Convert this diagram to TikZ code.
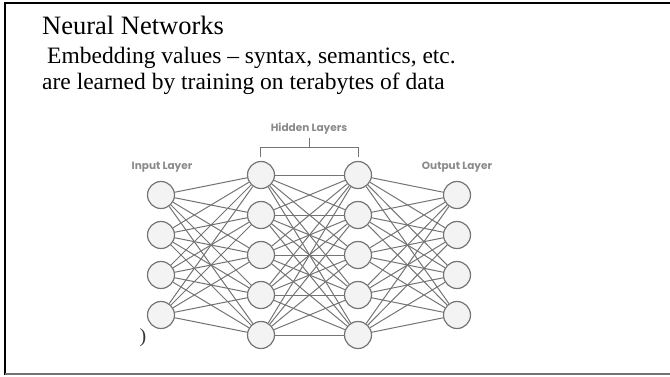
\documentclass[tikz,border=0pt]{standalone}
\usepackage{fontspec}
\setmainfont{Liberation Serif}
\newfontfamily\labelfont{Poppins}
\definecolor{linegray}{HTML}{747474}
\definecolor{nodefill}{HTML}{F3F3F3}
\definecolor{labelgray}{HTML}{8A8A8A}

\begin{document}
\begin{tikzpicture}[x=1pt,y=-1pt,
    neuron/.style={circle, draw=linegray, fill=nodefill, line width=1.2pt,
        minimum size=27pt, inner sep=0pt},
    layerlabel/.style={font=\labelfont\bfseries\fontsize{10.5}{12}\selectfont, text=labelgray},
    link/.style={draw=linegray, line width=1pt}]
\useasboundingbox (0,0) rectangle (670,376);

%% slide frame
\draw[line width=1.8pt] (5,375) -- (5,3) -- (670,3);
\draw[linegray, line width=1.4pt] (5,374) -- (670,374);

%% slide text
\node[anchor=base west, inner sep=0pt, font=\fontsize{26.5}{30}\selectfont] (title) at (42,34) {Neural Networks};
\node[anchor=base west, inner sep=0pt, font=\fontsize{23.5}{27}\selectfont] (lineone) at (47,63) {Embedding values -- syntax, semantics, etc.};
\node[anchor=base west, inner sep=0pt, font=\fontsize{23.5}{27}\selectfont] (linetwo) at (42,89) {are learned by training on terabytes of data};

%% neurons
\foreach \j in {1,...,4} {
    \node[neuron] (i\j) at (161,{155+40*\j}) {};
    \node[neuron] (o\j) at (457,{155+40*\j}) {};
}
\foreach \j in {1,...,5} {
    \node[neuron] (a\j) at (261,{135+40*\j}) {};
    \node[neuron] (b\j) at (358,{135+40*\j}) {};
}

%% links
\foreach \j in {1,...,4}
    \foreach \k in {1,...,5} {
        \draw[link] (i\j) -- (a\k);
        \draw[link] (b\k) -- (o\j);
    }
\foreach \j in {1,...,5}
    \foreach \k in {1,...,5}
        \draw[link] (a\j) -- (b\k);

%% layer labels
\node[layerlabel] (inlabel) at (162,167) {Input Layer};
\node[layerlabel] (outlabel) at (457,167) {Output Layer};
\node[layerlabel] (hidlabel) at (309,129) {Hidden Layers};
\coordinate (brl) at (260,157);
\coordinate (brr) at (358,157);
\draw[linegray, line width=1pt] (brl) -- ++(0,-10) -| (brr);
\draw[linegray, line width=1pt] (309,147) -- (hidlabel.south);

\node[font=\fontsize{20}{22}\selectfont, text=black!80] (mark) at (143,338) {)};
\end{tikzpicture}
\end{document}
